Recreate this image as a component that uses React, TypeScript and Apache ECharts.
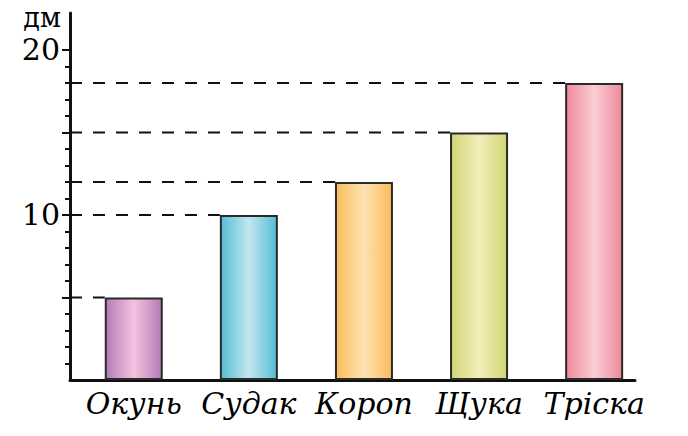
import React, { useEffect, useRef } from "react";
import * as echarts from "echarts";

const categories = ["Окунь", "Судак", "Короп", "Щука", "Тріска"];
const values = [5, 10, 12, 15, 18];
const edgeColors = ["#b47bb9", "#56bcd4", "#fbbd5c", "#cfd676", "#ef889a"];
const centerColors = ["#f4c3de", "#c2e7f0", "#fee1b0", "#f4eeb8", "#f9ced5"];
const majorTicks = [5, 10, 15, 20];
const minorTicks = [1, 2, 3, 4, 6, 7, 8, 9, 11, 12, 13, 14, 16, 17, 18, 19];
const tickLabels = [10, 20];
const unit = "дм";

const BAR_W = 58;
const SERIF = "DejaVu Serif";

export default function App() {
  const ref = useRef<HTMLDivElement>(null);
  useEffect(() => {
    document.body.style.margin = "0";
    const chart = echarts.init(ref.current!, null, { renderer: "svg" });
    const barData = values.map((v, i) => ({
      value: [i, v],
      itemStyle: {
        color: new echarts.graphic.LinearGradient(0, 0, 1, 0, [
          { offset: 0, color: edgeColors[i] },
          { offset: 0.5, color: centerColors[i] },
          { offset: 1, color: edgeColors[i] },
        ]),
      },
    }));
    chart.setOption({
      animation: false,
      backgroundColor: "#ffffff",
      grid: { left: 70, right: 53, top: 13, bottom: 56 },
      xAxis: {
        type: "value",
        min: -0.554,
        max: 4.355,
        splitLine: { show: false },
        axisTick: { show: false },
        axisLine: { show: true, onZero: false, lineStyle: { color: "#111", width: 3 } },
        axisLabel: {
          customValues: [0, 1, 2, 3, 4],
          formatter: (v: number) => categories[Math.round(v)] ?? "",
          fontFamily: SERIF,
          fontStyle: "italic",
          fontSize: 30,
          color: "#000",
          margin: 8,
        },
      },
      yAxis: [
        {
          type: "value",
          min: 0,
          max: 22.24,
          splitLine: { show: false },
          axisLine: { show: true, onZero: false, lineStyle: { color: "#111", width: 3 } },
          axisTick: {
            show: true,
            customValues: majorTicks,
            length: 8,
            lineStyle: { color: "#111", width: 2 },
          },
          axisLabel: {
            customValues: tickLabels,
            fontFamily: SERIF,
            fontSize: 30,
            color: "#000",
            margin: 10,
          },
        },
        {
          type: "value",
          min: 0,
          max: 22.24,
          position: "left",
          splitLine: { show: false },
          axisLine: { show: false, onZero: false },
          axisLabel: { show: false },
          axisTick: {
            show: true,
            customValues: minorTicks,
            length: 5,
            lineStyle: { color: "#111", width: 2 },
          },
        },
      ],
      graphic: [
        {
          type: "text",
          right: 688 - 61,
          top: 4,
          style: { text: unit, fontFamily: SERIF, fontSize: 27, fill: "#000" },
        },
      ],
      series: [
        {
          type: "custom",
          xAxisIndex: 0,
          yAxisIndex: 0,
          data: values.map((v, i) => [i, v]),
          z: 1,
          renderItem: (params: any, api: any) => {
            const p = api.coord([api.value(0), api.value(1)]);
            const x0 = params.coordSys.x;
            return {
              type: "line",
              shape: { x1: x0, y1: p[1], x2: p[0] - BAR_W / 2, y2: p[1] },
              style: { stroke: "#111", lineWidth: 2, lineDash: [12, 11] },
            };
          },
        },
        {
          type: "bar",
          xAxisIndex: 0,
          yAxisIndex: 0,
          barWidth: BAR_W,
          z: 2,
          data: barData,
          itemStyle: { borderColor: "#2a2a2a", borderWidth: 2 },
        },
      ],
    });
    return () => chart.dispose();
  }, []);
  return <div ref={ref} style={{ width: 688, height: 436 }} />;
}
